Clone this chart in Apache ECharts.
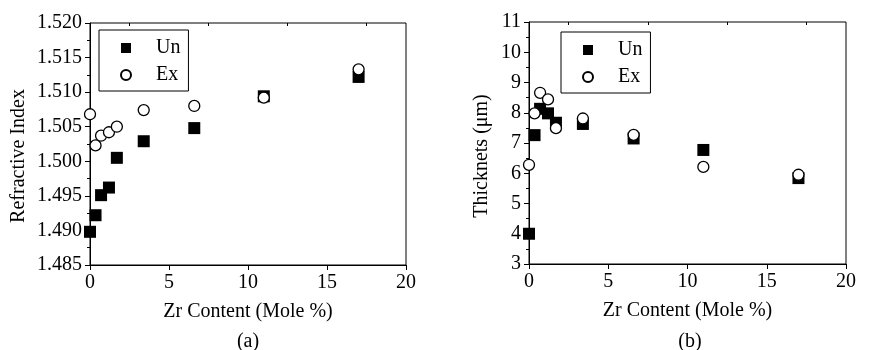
<!DOCTYPE html>
<html>
<head>
<meta charset="utf-8">
<script src="https://cdn.jsdelivr.net/npm/echarts@6/dist/echarts.min.js"></script>
<style>
  html, body { margin: 0; padding: 0; background: #fff; }
  #chart { width: 869px; height: 350px; }
</style>
</head>
<body>
<div id="chart"></div>
<script>
// Zr content (mole %), shared by both panels
const zrContent = [0, 0.35, 0.7, 1.2, 1.7, 3.4, 6.6, 11, 17];

// panel (a): refractive index
const refIndexUn = [1.4898, 1.4922, 1.4951, 1.4962, 1.5005, 1.5029, 1.5048, 1.5094, 1.5122];
const refIndexEx = [1.5068, 1.5023, 1.5037, 1.5042, 1.5050, 1.5074, 1.5080, 1.5092, 1.5133];

// panel (b): thickness (um)
const thickUn = [4.0, 7.26, 8.13, 7.98, 7.67, 7.63, 7.15, 6.77, 5.84];
const thickEx = [6.28, 7.98, 8.66, 8.44, 7.49, 7.81, 7.27, 6.21, 5.95];

// minor tick positions
const xMinor = [2.5, 7.5, 12.5, 17.5];
const refMinor = [1.4875, 1.4925, 1.4975, 1.5025, 1.5075, 1.5125, 1.5175];
const thickMinor = [3.5, 4.5, 5.5, 6.5, 7.5, 8.5, 9.5, 10.5];

const FONT = "'Liberation Serif', 'Times New Roman', serif";
const BLACK = '#000';

const pair = (xs, ys) => xs.map((x, i) => [x, ys[i]]);

function mainX(gridIndex) {
  return {
    type: 'value', gridIndex, min: 0, max: 20, interval: 5,
    name: 'Zr Content (Mole %)', nameLocation: 'middle', nameGap: 37,
    nameTextStyle: { fontFamily: FONT, fontSize: 20, color: BLACK },
    axisLine: { show: true, lineStyle: { color: BLACK, width: 1 } },
    axisTick: { show: true, length: 5, lineStyle: { color: BLACK } },
    axisLabel: { margin: 8, fontFamily: FONT, fontSize: 20, color: BLACK },
    splitLine: { show: false }
  };
}

function minorX(gridIndex) {
  return {
    type: 'value', gridIndex, min: 0, max: 20,
    axisLine: { show: false },
    axisTick: { show: true, inside: true, length: 3, customValues: xMinor, lineStyle: { color: BLACK } },
    axisLabel: { show: false },
    splitLine: { show: false }
  };
}

function minorY(gridIndex, min, max, vals) {
  return {
    type: 'value', gridIndex, min, max,
    axisLine: { show: false },
    axisTick: { show: true, inside: true, length: 3, customValues: vals, lineStyle: { color: BLACK } },
    axisLabel: { show: false },
    splitLine: { show: false }
  };
}

function legendAt(left, top) {
  return {
    left, top, orient: 'vertical',
    data: ['Un', 'Ex'],
    borderColor: BLACK, borderWidth: 1, borderRadius: 0,
    padding: [8, 8, 6, 21],
    itemGap: 7, itemWidth: 10, itemHeight: 10,
    textStyle: { fontFamily: FONT, fontSize: 20, color: BLACK, padding: [0, 0, 0, 20] }
  };
}

const unStyle = { color: BLACK, opacity: 1 };
const exStyle = { color: '#fff', borderColor: BLACK, borderWidth: 1.3, opacity: 1 };

const chart = echarts.init(document.getElementById('chart'));

chart.setOption({
  animation: false,
  backgroundColor: '#fff',
  grid: [
    { left: 90, top: 23, width: 316, height: 242, show: true, borderColor: BLACK, borderWidth: 1, backgroundColor: 'transparent' },
    { left: 529, top: 22, width: 317, height: 242, show: true, borderColor: BLACK, borderWidth: 1, backgroundColor: 'transparent' }
  ],
  legend: [legendAt(99, 30), legendAt(561, 32)],
  xAxis: [mainX(0), mainX(1), minorX(0), minorX(1)],
  yAxis: [
    {
      type: 'value', gridIndex: 0, min: 1.485, max: 1.52, interval: 0.005,
      name: 'Refractive Index', nameLocation: 'middle', nameGap: 61,
      nameTextStyle: { fontFamily: FONT, fontSize: 20, color: BLACK, padding: [0, 24, 0, 0] },
      axisLine: { show: true, lineStyle: { color: BLACK, width: 1 } },
      axisTick: { show: true, length: 5, lineStyle: { color: BLACK } },
      axisLabel: { margin: 8, fontFamily: FONT, fontSize: 20, color: BLACK, formatter: v => v.toFixed(3) },
      splitLine: { show: false }
    },
    {
      type: 'value', gridIndex: 1, min: 3, max: 11, interval: 1,
      name: 'Thicknets (\u03bcm)', nameLocation: 'middle', nameGap: 37,
      nameTextStyle: { fontFamily: FONT, fontSize: 20, color: BLACK, padding: [0, 26, 0, 0] },
      axisLine: { show: true, lineStyle: { color: BLACK, width: 1 } },
      axisTick: { show: true, length: 5, lineStyle: { color: BLACK } },
      axisLabel: { margin: 8, fontFamily: FONT, fontSize: 20, color: BLACK },
      splitLine: { show: false }
    },
    minorY(0, 1.485, 1.52, refMinor),
    minorY(1, 3, 11, thickMinor)
  ],
  series: [
    { name: 'Un', type: 'scatter', xAxisIndex: 0, yAxisIndex: 0, symbol: 'rect', symbolSize: 12, itemStyle: unStyle, data: pair(zrContent, refIndexUn) },
    { name: 'Ex', type: 'scatter', xAxisIndex: 0, yAxisIndex: 0, symbol: 'circle', symbolSize: 11, itemStyle: exStyle, data: pair(zrContent, refIndexEx) },
    { name: 'Un', type: 'scatter', xAxisIndex: 1, yAxisIndex: 1, symbol: 'rect', symbolSize: 12, itemStyle: unStyle, data: pair(zrContent, thickUn) },
    { name: 'Ex', type: 'scatter', xAxisIndex: 1, yAxisIndex: 1, symbol: 'circle', symbolSize: 11, itemStyle: exStyle, data: pair(zrContent, thickEx) }
  ],
  graphic: [
    { type: 'text', x: 248, y: 342, style: { text: '(a)', font: '20px ' + FONT, fill: BLACK, align: 'center', verticalAlign: 'middle' } },
    { type: 'text', x: 690, y: 342, style: { text: '(b)', font: '20px ' + FONT, fill: BLACK, align: 'center', verticalAlign: 'middle' } }
  ]
});
</script>
</body>
</html>
